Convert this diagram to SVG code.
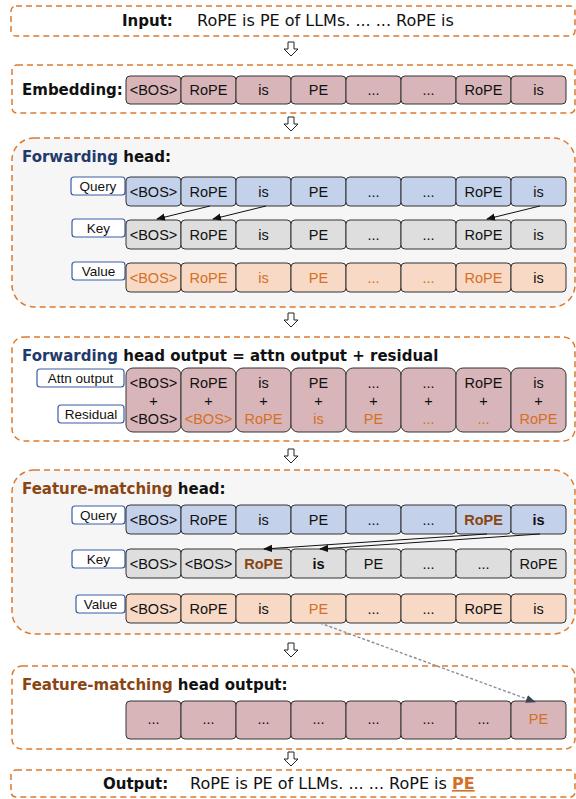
<svg xmlns="http://www.w3.org/2000/svg" width="576" height="799" viewBox="0 0 576 799">
  <defs>
    <style>
      .frame { fill: #ffffff; stroke: #DD7A2E; stroke-width: 1.5; stroke-dasharray: 6 4; }
      .panel { fill: #F6F6F6; stroke: #DD7A2E; stroke-width: 1.5; stroke-dasharray: 6 4; }
      .head { font-family: "DejaVu Sans", "Liberation Sans", sans-serif; font-weight: bold; font-size: 15px; fill: #111; }
      .plain { font-family: "DejaVu Sans", "Liberation Sans", sans-serif; font-size: 16px; fill: #111; }
      .fw { fill: #1F3A6B; }
      .fm { fill: #8A4512; }
      .cell { stroke: #333; stroke-width: 1; }
      .emb { fill: #D8B5B8; }
      .q { fill: #C3D1EA; }
      .k { fill: #DEDEDE; }
      .v { fill: #F7D9C5; }
      .t { font-family: "Liberation Sans", Arial, sans-serif; font-size: 14.5px; fill: #111; text-anchor: middle; }
      .or { fill: #D47025; }
      .bd { font-weight: bold; }
      .br { fill: #8A4512; font-weight: bold; }
      .lab { fill: #ffffff; stroke: #3A5DA8; stroke-width: 1.2; }
      .lt { font-family: "Liberation Sans", Arial, sans-serif; font-size: 13.5px; fill: #111; text-anchor: middle; }
      .down { fill: #ffffff; stroke: #222; stroke-width: 1; }
      .link { stroke: #111; stroke-width: 1; fill: none; marker-end: url(#head); }
      .copy { stroke: #8A8F99; stroke-width: 1.4; stroke-dasharray: 3 2; fill: none; marker-end: url(#headGray); }
    </style>
    <marker id="head" viewBox="0 0 10 10" refX="9" refY="5" markerWidth="9" markerHeight="9" orient="auto" markerUnits="userSpaceOnUse">
      <path d="M0,1 L10,5 L0,9 z" fill="#111"/>
    </marker>
    <marker id="headGray" viewBox="0 0 10 10" refX="9" refY="5" markerWidth="10" markerHeight="10" orient="auto" markerUnits="userSpaceOnUse">
      <path d="M0,1 L10,5 L0,9 z" fill="#3A4658"/>
    </marker>
    <path id="downArrow" class="down" d="M-3,0 H3 V7 H7 L0,14 L-7,7 H-3 Z"/>
  </defs>

  <!-- Input -->
  <g id="input">
    <rect class="frame" x="11" y="6" width="564" height="30" rx="5"/>
    <text class="head" x="122" y="26">Input:</text>
    <text class="plain" x="197" y="26">RoPE is PE of LLMs. ... ... RoPE is</text>
  </g>

  <use href="#downArrow" x="291" y="42"/>

  <!-- Embedding -->
  <g id="embedding">
    <rect class="frame" x="12" y="65" width="563" height="48" rx="5"/>
    <text class="head" x="22" y="95">Embedding:</text>
    <g>
      <rect class="cell emb" x="126" y="76" width="55" height="28" rx="4"/>
      <rect class="cell emb" x="181" y="76" width="55" height="28" rx="4"/>
      <rect class="cell emb" x="236" y="76" width="55" height="28" rx="4"/>
      <rect class="cell emb" x="291" y="76" width="55" height="28" rx="4"/>
      <rect class="cell emb" x="346" y="76" width="55" height="28" rx="4"/>
      <rect class="cell emb" x="401" y="76" width="55" height="28" rx="4"/>
      <rect class="cell emb" x="456" y="76" width="55" height="28" rx="4"/>
      <rect class="cell emb" x="511" y="76" width="55" height="28" rx="4"/>
      <text class="t" x="153.5" y="95">&lt;BOS&gt;</text>
      <text class="t" x="208.5" y="95">RoPE</text>
      <text class="t" x="263.5" y="95">is</text>
      <text class="t" x="318.5" y="95">PE</text>
      <text class="t" x="373.5" y="95">...</text>
      <text class="t" x="428.5" y="95">...</text>
      <text class="t" x="483.5" y="95">RoPE</text>
      <text class="t" x="538.5" y="95">is</text>
    </g>
  </g>

  <use href="#downArrow" x="291" y="117"/>

  <!-- Forwarding head -->
  <g id="forwarding-head">
    <rect class="panel" x="12" y="138" width="563" height="169" rx="22"/>
    <text class="head" x="22" y="162"><tspan class="fw">Forwarding</tspan> head:</text>

    <rect class="lab" x="71" y="177" width="54" height="18" rx="3"/>
    <text class="lt" x="98" y="191">Query</text>
    <rect class="cell q" x="126" y="177" width="55" height="29" rx="4"/>
    <rect class="cell q" x="181" y="177" width="55" height="29" rx="4"/>
    <rect class="cell q" x="236" y="177" width="55" height="29" rx="4"/>
    <rect class="cell q" x="291" y="177" width="55" height="29" rx="4"/>
    <rect class="cell q" x="346" y="177" width="55" height="29" rx="4"/>
    <rect class="cell q" x="401" y="177" width="55" height="29" rx="4"/>
    <rect class="cell q" x="456" y="177" width="55" height="29" rx="4"/>
    <rect class="cell q" x="511" y="177" width="55" height="29" rx="4"/>
    <text class="t" x="153.5" y="197">&lt;BOS&gt;</text>
    <text class="t" x="208.5" y="197">RoPE</text>
    <text class="t" x="263.5" y="197">is</text>
    <text class="t" x="318.5" y="197">PE</text>
    <text class="t" x="373.5" y="197">...</text>
    <text class="t" x="428.5" y="197">...</text>
    <text class="t" x="483.5" y="197">RoPE</text>
    <text class="t" x="538.5" y="197">is</text>

    <rect class="lab" x="72" y="219" width="53" height="18" rx="3"/>
    <text class="lt" x="98.5" y="233">Key</text>
    <rect class="cell k" x="126" y="220" width="55" height="29" rx="4"/>
    <rect class="cell k" x="181" y="220" width="55" height="29" rx="4"/>
    <rect class="cell k" x="236" y="220" width="55" height="29" rx="4"/>
    <rect class="cell k" x="291" y="220" width="55" height="29" rx="4"/>
    <rect class="cell k" x="346" y="220" width="55" height="29" rx="4"/>
    <rect class="cell k" x="401" y="220" width="55" height="29" rx="4"/>
    <rect class="cell k" x="456" y="220" width="55" height="29" rx="4"/>
    <rect class="cell k" x="511" y="220" width="55" height="29" rx="4"/>
    <text class="t" x="153.5" y="240">&lt;BOS&gt;</text>
    <text class="t" x="208.5" y="240">RoPE</text>
    <text class="t" x="263.5" y="240">is</text>
    <text class="t" x="318.5" y="240">PE</text>
    <text class="t" x="373.5" y="240">...</text>
    <text class="t" x="428.5" y="240">...</text>
    <text class="t" x="483.5" y="240">RoPE</text>
    <text class="t" x="538.5" y="240">is</text>

    <rect class="lab" x="72" y="262" width="53" height="18" rx="3"/>
    <text class="lt" x="98.5" y="276">Value</text>
    <rect class="cell v" x="126" y="263" width="55" height="29" rx="4"/>
    <rect class="cell v" x="181" y="263" width="55" height="29" rx="4"/>
    <rect class="cell v" x="236" y="263" width="55" height="29" rx="4"/>
    <rect class="cell v" x="291" y="263" width="55" height="29" rx="4"/>
    <rect class="cell v" x="346" y="263" width="55" height="29" rx="4"/>
    <rect class="cell v" x="401" y="263" width="55" height="29" rx="4"/>
    <rect class="cell v" x="456" y="263" width="55" height="29" rx="4"/>
    <rect class="cell v" x="511" y="263" width="55" height="29" rx="4"/>
    <text class="t or" x="153.5" y="283">&lt;BOS&gt;</text>
    <text class="t or" x="208.5" y="283">RoPE</text>
    <text class="t or" x="263.5" y="283">is</text>
    <text class="t or" x="318.5" y="283">PE</text>
    <text class="t or" x="373.5" y="283">...</text>
    <text class="t or" x="428.5" y="283">...</text>
    <text class="t or" x="483.5" y="283">RoPE</text>
    <text class="t" x="538.5" y="283">is</text>
  </g>

  <use href="#downArrow" x="291" y="313"/>

  <!-- Forwarding head output -->
  <g id="forwarding-output">
    <rect class="frame" x="12" y="337" width="563" height="104" rx="12"/>
    <text class="head" x="22" y="361"><tspan class="fw">Forwarding</tspan> head output = attn output + residual</text>
    <rect class="lab" x="37" y="369" width="87" height="18" rx="3"/>
    <text class="lt" x="80.5" y="383">Attn output</text>
    <rect class="lab" x="58" y="405" width="66" height="18" rx="3"/>
    <text class="lt" x="91" y="419">Residual</text>
    <rect class="cell emb" x="126" y="368" width="55" height="64" rx="7"/>
    <rect class="cell emb" x="181" y="368" width="55" height="64" rx="7"/>
    <rect class="cell emb" x="236" y="368" width="55" height="64" rx="7"/>
    <rect class="cell emb" x="291" y="368" width="55" height="64" rx="7"/>
    <rect class="cell emb" x="346" y="368" width="55" height="64" rx="7"/>
    <rect class="cell emb" x="401" y="368" width="55" height="64" rx="7"/>
    <rect class="cell emb" x="456" y="368" width="55" height="64" rx="7"/>
    <rect class="cell emb" x="511" y="368" width="55" height="64" rx="7"/>
    <text class="t" x="153.5" y="388">&lt;BOS&gt;</text>
    <text class="t" x="208.5" y="388">RoPE</text>
    <text class="t" x="263.5" y="388">is</text>
    <text class="t" x="318.5" y="388">PE</text>
    <text class="t" x="373.5" y="388">...</text>
    <text class="t" x="428.5" y="388">...</text>
    <text class="t" x="483.5" y="388">RoPE</text>
    <text class="t" x="538.5" y="388">is</text>
    <text class="t" x="153.5" y="406">+</text>
    <text class="t" x="208.5" y="406">+</text>
    <text class="t" x="263.5" y="406">+</text>
    <text class="t" x="318.5" y="406">+</text>
    <text class="t" x="373.5" y="406">+</text>
    <text class="t" x="428.5" y="406">+</text>
    <text class="t" x="483.5" y="406">+</text>
    <text class="t" x="538.5" y="406">+</text>
    <text class="t" x="153.5" y="424">&lt;BOS&gt;</text>
    <text class="t or" x="208.5" y="424">&lt;BOS&gt;</text>
    <text class="t or" x="263.5" y="424">RoPE</text>
    <text class="t or" x="318.5" y="424">is</text>
    <text class="t or" x="373.5" y="424">PE</text>
    <text class="t or" x="428.5" y="424">...</text>
    <text class="t or" x="483.5" y="424">...</text>
    <text class="t or" x="538.5" y="424">RoPE</text>
  </g>

  <use href="#downArrow" x="291" y="449"/>

  <!-- Feature-matching head -->
  <g id="feature-matching-head">
    <rect class="panel" x="12" y="470" width="563" height="164" rx="22"/>
    <text class="head" x="22" y="494"><tspan class="fm">Feature-matching</tspan> head:</text>

    <rect class="lab" x="72" y="506" width="53" height="18" rx="3"/>
    <text class="lt" x="98.5" y="520">Query</text>
    <rect class="cell q" x="126" y="505" width="55" height="29" rx="4"/>
    <rect class="cell q" x="181" y="505" width="55" height="29" rx="4"/>
    <rect class="cell q" x="236" y="505" width="55" height="29" rx="4"/>
    <rect class="cell q" x="291" y="505" width="55" height="29" rx="4"/>
    <rect class="cell q" x="346" y="505" width="55" height="29" rx="4"/>
    <rect class="cell q" x="401" y="505" width="55" height="29" rx="4"/>
    <rect class="cell q" x="456" y="505" width="55" height="29" rx="4"/>
    <rect class="cell q" x="511" y="505" width="55" height="29" rx="4"/>
    <text class="t" x="153.5" y="525">&lt;BOS&gt;</text>
    <text class="t" x="208.5" y="525">RoPE</text>
    <text class="t" x="263.5" y="525">is</text>
    <text class="t" x="318.5" y="525">PE</text>
    <text class="t" x="373.5" y="525">...</text>
    <text class="t" x="428.5" y="525">...</text>
    <text class="t br" x="483.5" y="525">RoPE</text>
    <text class="t bd" x="538.5" y="525">is</text>

    <rect class="lab" x="72" y="550" width="53" height="18" rx="3"/>
    <text class="lt" x="98.5" y="564">Key</text>
    <rect class="cell k" x="126" y="549" width="55" height="29" rx="4"/>
    <rect class="cell k" x="181" y="549" width="55" height="29" rx="4"/>
    <rect class="cell k" x="236" y="549" width="55" height="29" rx="4"/>
    <rect class="cell k" x="291" y="549" width="55" height="29" rx="4"/>
    <rect class="cell k" x="346" y="549" width="55" height="29" rx="4"/>
    <rect class="cell k" x="401" y="549" width="55" height="29" rx="4"/>
    <rect class="cell k" x="456" y="549" width="55" height="29" rx="4"/>
    <rect class="cell k" x="511" y="549" width="55" height="29" rx="4"/>
    <text class="t" x="153.5" y="569">&lt;BOS&gt;</text>
    <text class="t" x="208.5" y="569">&lt;BOS&gt;</text>
    <text class="t br" x="263.5" y="569">RoPE</text>
    <text class="t bd" x="318.5" y="569">is</text>
    <text class="t" x="373.5" y="569">PE</text>
    <text class="t" x="428.5" y="569">...</text>
    <text class="t" x="483.5" y="569">...</text>
    <text class="t" x="538.5" y="569">RoPE</text>

    <rect class="lab" x="76" y="595" width="49" height="18" rx="3"/>
    <text class="lt" x="100.5" y="609">Value</text>
    <rect class="cell v" x="126" y="594" width="55" height="29" rx="4"/>
    <rect class="cell v" x="181" y="594" width="55" height="29" rx="4"/>
    <rect class="cell v" x="236" y="594" width="55" height="29" rx="4"/>
    <rect class="cell v" x="291" y="594" width="55" height="29" rx="4"/>
    <rect class="cell v" x="346" y="594" width="55" height="29" rx="4"/>
    <rect class="cell v" x="401" y="594" width="55" height="29" rx="4"/>
    <rect class="cell v" x="456" y="594" width="55" height="29" rx="4"/>
    <rect class="cell v" x="511" y="594" width="55" height="29" rx="4"/>
    <text class="t" x="153.5" y="614">&lt;BOS&gt;</text>
    <text class="t" x="208.5" y="614">RoPE</text>
    <text class="t" x="263.5" y="614">is</text>
    <text class="t or" x="318.5" y="614">PE</text>
    <text class="t" x="373.5" y="614">...</text>
    <text class="t" x="428.5" y="614">...</text>
    <text class="t" x="483.5" y="614">RoPE</text>
    <text class="t" x="538.5" y="614">is</text>
  </g>

  <use href="#downArrow" x="291" y="643"/>

  <!-- Feature-matching head output -->
  <g id="feature-matching-output">
    <rect class="frame" x="12" y="666" width="563" height="83" rx="10"/>
    <text class="head" x="22" y="690"><tspan class="fm">Feature-matching</tspan> head output:</text>
    <rect class="cell emb" x="126" y="701" width="55" height="38" rx="4"/>
    <rect class="cell emb" x="181" y="701" width="55" height="38" rx="4"/>
    <rect class="cell emb" x="236" y="701" width="55" height="38" rx="4"/>
    <rect class="cell emb" x="291" y="701" width="55" height="38" rx="4"/>
    <rect class="cell emb" x="346" y="701" width="55" height="38" rx="4"/>
    <rect class="cell emb" x="401" y="701" width="55" height="38" rx="4"/>
    <rect class="cell emb" x="456" y="701" width="55" height="38" rx="4"/>
    <rect class="cell emb" x="511" y="701" width="55" height="38" rx="4"/>
    <text class="t" x="153.5" y="724">...</text>
    <text class="t" x="208.5" y="724">...</text>
    <text class="t" x="263.5" y="724">...</text>
    <text class="t" x="318.5" y="724">...</text>
    <text class="t" x="373.5" y="724">...</text>
    <text class="t" x="428.5" y="724">...</text>
    <text class="t" x="483.5" y="724">...</text>
    <text class="t or" x="538.5" y="724">PE</text>
  </g>

  <use href="#downArrow" x="291" y="752"/>

  <!-- Output -->
  <g id="output">
    <rect class="frame" x="11" y="770" width="564" height="27" rx="5"/>
    <text class="head" x="103" y="789">Output:</text>
    <text class="plain" x="190" y="789">RoPE is PE of LLMs. ... ... RoPE is <tspan class="bd" fill="#D47025" text-decoration="underline">PE</tspan></text>
  </g>

  <!-- Attention links and value copy -->
  <g id="connectors">
    <line class="link" x1="210" y1="206" x2="157" y2="219"/>
    <line class="link" x1="266" y1="206" x2="213" y2="219"/>
    <line class="link" x1="540" y1="206" x2="487" y2="219"/>
    <line class="link" x1="487" y1="534" x2="264" y2="549"/>
    <line class="link" x1="540" y1="534" x2="320" y2="549"/>
    <line class="copy" x1="320" y1="623" x2="535" y2="702"/>
  </g>
</svg>
